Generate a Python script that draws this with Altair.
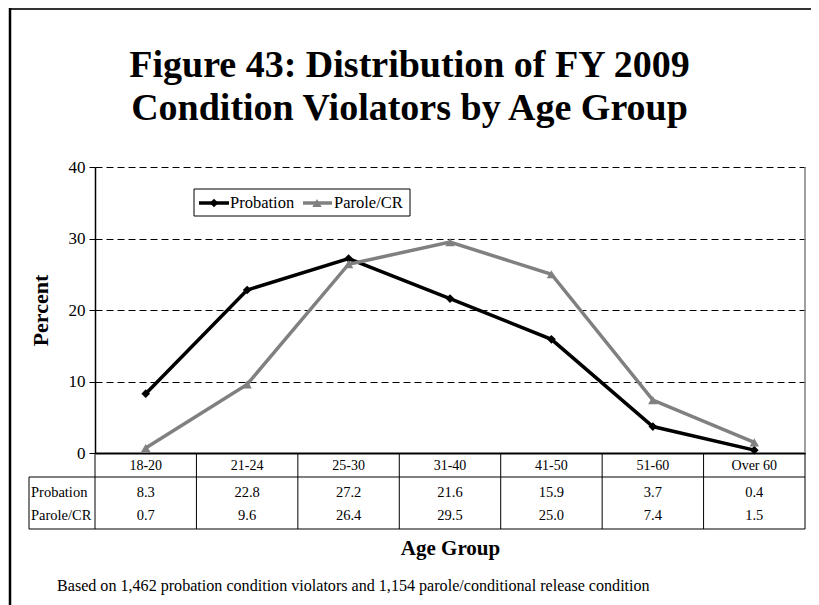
import altair as alt
import pandas as pd

# ---- data ----
cats = ["18-20", "21-24", "25-30", "31-40", "41-50", "51-60", "Over 60"]
probation = [8.3, 22.8, 27.2, 21.6, 15.9, 3.7, 0.4]
parole = [0.7, 9.6, 26.4, 29.5, 25.0, 7.4, 1.5]
series_names = ["Probation", "Parole/CR"]
y_ticks = [0, 10, 20, 30, 40]
title_lines = ["Figure 43: Distribution of FY 2009", "Condition Violators by Age Group"]
footnote = "Based on 1,462 probation condition violators and 1,154 parole/conditional release condition"

FONT = "'Liberation Serif', 'Times New Roman', Times, serif"
W, H = 710, 286
GRAY = "#808080"

df = pd.DataFrame({
    "age": cats * 2,
    "series": [series_names[0]] * len(cats) + [series_names[1]] * len(cats),
    "value": probation + parole,
})
df_cats = pd.DataFrame({"age": cats})
one = pd.DataFrame({"k": [0]})

xscale = alt.Scale(type="band", domain=cats, paddingInner=0, paddingOuter=0)
yscale = alt.Scale(domain=[0, 40], nice=False, zero=True)

xaxis = alt.Axis(title="Age Group", domain=True, domainColor="black", domainWidth=2,
                 ticks=False, grid=False, labelFont=FONT, labelFontSize=14,
                 labelColor="black", labelPadding=5, labelAngle=0,
                 titleFont=FONT, titleFontSize=21, titleFontWeight="bold",
                 titleColor="black", titlePadding=65)
yaxis = alt.Axis(title="Percent", values=y_ticks, domain=True, domainColor="black",
                 domainWidth=1.5, ticks=True, tickColor="black", tickSize=6,
                 labelFont=FONT, labelFontSize=17, labelColor="black", labelPadding=4,
                 grid=True, gridColor="black", gridDash=[7, 4], gridWidth=1,
                 titleFont=FONT, titleFontSize=22, titleFontWeight="bold",
                 titleColor="black", titlePadding=16)


def xenc(bp=0.5):
    return alt.X("age:N", scale=xscale, sort=cats, bandPosition=bp, axis=xaxis)


yenc = alt.Y("value:Q", scale=yscale, axis=yaxis)

base = alt.Chart(df)
prob = base.transform_filter(alt.datum.series == "Probation")
par = base.transform_filter(alt.datum.series == "Parole/CR")

prob_line = prob.mark_line(color="black", strokeWidth=3.5).encode(x=xenc(), y=yenc)
prob_pts = prob.mark_point(shape="diamond", filled=True, color="black", size=75,
                           opacity=1).encode(x=xenc(), y=yenc)
par_line = par.mark_line(color=GRAY, strokeWidth=3.5).encode(x=xenc(), y=yenc)
par_pts = par.mark_point(shape="triangle-up", filled=True, color=GRAY, size=90,
                         opacity=1).encode(x=xenc(), y=yenc)

# right border of plot area
right_border = alt.Chart(one).mark_rule(color=GRAY, strokeWidth=1.5).encode(
    x=alt.value(W), y=alt.value(0), y2=alt.value(H))

# data table
ROW_SEP, ROW_BOT, ROW_LEFT = 310, 362, -66
Y_PROB, Y_PAR = 326, 349
table_v = alt.Chart(df_cats).mark_rule(color="black", strokeWidth=1).encode(
    x=xenc(0), y=alt.value(H), y2=alt.value(ROW_BOT))
table_vr = alt.Chart(one).mark_rule(color="black", strokeWidth=1).encode(
    x=alt.value(W), y=alt.value(H), y2=alt.value(ROW_BOT))
table_vl = alt.Chart(one).mark_rule(color="black", strokeWidth=1).encode(
    x=alt.value(ROW_LEFT), y=alt.value(ROW_SEP), y2=alt.value(ROW_BOT))
table_h1 = alt.Chart(one).mark_rule(color="black", strokeWidth=1).encode(
    x=alt.value(ROW_LEFT), x2=alt.value(W), y=alt.value(ROW_SEP))
table_h2 = alt.Chart(one).mark_rule(color="black", strokeWidth=1).encode(
    x=alt.value(ROW_LEFT), x2=alt.value(W), y=alt.value(ROW_BOT))

txt_kw = dict(font=FONT, fontSize=14.5, color="black", baseline="middle")
prob_txt = prob.mark_text(align="center", **txt_kw).encode(
    x=xenc(), y=alt.value(Y_PROB), text=alt.Text("value:Q", format=".1f"))
par_txt = par.mark_text(align="center", **txt_kw).encode(
    x=xenc(), y=alt.value(Y_PAR), text=alt.Text("value:Q", format=".1f"))
prob_hdr = alt.Chart(one).mark_text(align="left", text=series_names[0], **txt_kw).encode(
    x=alt.value(ROW_LEFT + 2), y=alt.value(Y_PROB))
par_hdr = alt.Chart(one).mark_text(align="left", text=series_names[1], **txt_kw).encode(
    x=alt.value(ROW_LEFT + 2), y=alt.value(Y_PAR))

# legend
LY = 36
leg_box = alt.Chart(one).mark_rect(fill="white", stroke="black", strokeWidth=1).encode(
    x=alt.value(99), x2=alt.value(315), y=alt.value(22), y2=alt.value(49))
leg_l1 = alt.Chart(one).mark_rule(color="black", strokeWidth=3.5).encode(
    x=alt.value(104), x2=alt.value(134), y=alt.value(LY))
leg_p1 = alt.Chart(one).mark_point(shape="diamond", filled=True, color="black", size=75,
                                   opacity=1).encode(x=alt.value(119), y=alt.value(LY))
leg_t1 = alt.Chart(one).mark_text(text=series_names[0], font=FONT, fontSize=16.5, color="black",
                                  align="left", baseline="middle").encode(
    x=alt.value(135), y=alt.value(LY))
leg_l2 = alt.Chart(one).mark_rule(color=GRAY, strokeWidth=3.5).encode(
    x=alt.value(208), x2=alt.value(237), y=alt.value(LY))
leg_p2 = alt.Chart(one).mark_point(shape="triangle-up", filled=True, color=GRAY, size=90,
                                   opacity=1).encode(x=alt.value(222), y=alt.value(LY))
leg_t2 = alt.Chart(one).mark_text(text=series_names[1], font=FONT, fontSize=16.5, color="black",
                                  align="left", baseline="middle").encode(
    x=alt.value(239), y=alt.value(LY))

# title, footnote, frame (top and left edges only; the rest lies off-page)
title = alt.Chart(one).mark_text(text=title_lines, font=FONT, fontSize=38, fontWeight="bold",
                                 lineHeight=43, align="center", baseline="alphabetic",
                                 color="black").encode(x=alt.value(314.5), y=alt.value(-90))
foot = alt.Chart(one).mark_text(text=footnote, font=FONT, fontSize=16.1, color="black",
                                align="left", baseline="alphabetic").encode(
    x=alt.value(-38), y=alt.value(424))
frame_top = alt.Chart(one).mark_rule(color="#333333", strokeWidth=2).encode(
    x=alt.value(-86), x2=alt.value(W + 30), y=alt.value(-158))
frame_left = alt.Chart(one).mark_rule(color="black", strokeWidth=2.5).encode(
    x=alt.value(-85), y=alt.value(-159), y2=alt.value(H + 200))

chart = alt.layer(
    frame_top, frame_left, right_border,
    table_v, table_vr, table_vl, table_h1, table_h2,
    prob_line, prob_pts, par_line, par_pts,
    prob_txt, par_txt, prob_hdr, par_hdr,
    leg_box, leg_l1, leg_p1, leg_t1, leg_l2, leg_p2, leg_t2,
    title, foot,
).properties(
    width=W, height=H,
    autosize=alt.AutoSizeParams(type="none"),
    padding={"left": 87, "top": 159, "right": 6, "bottom": 152},
    background="white",
).configure_view(stroke=None)

chart.save("out.html", embed_options={"renderer": "svg", "actions": False})
